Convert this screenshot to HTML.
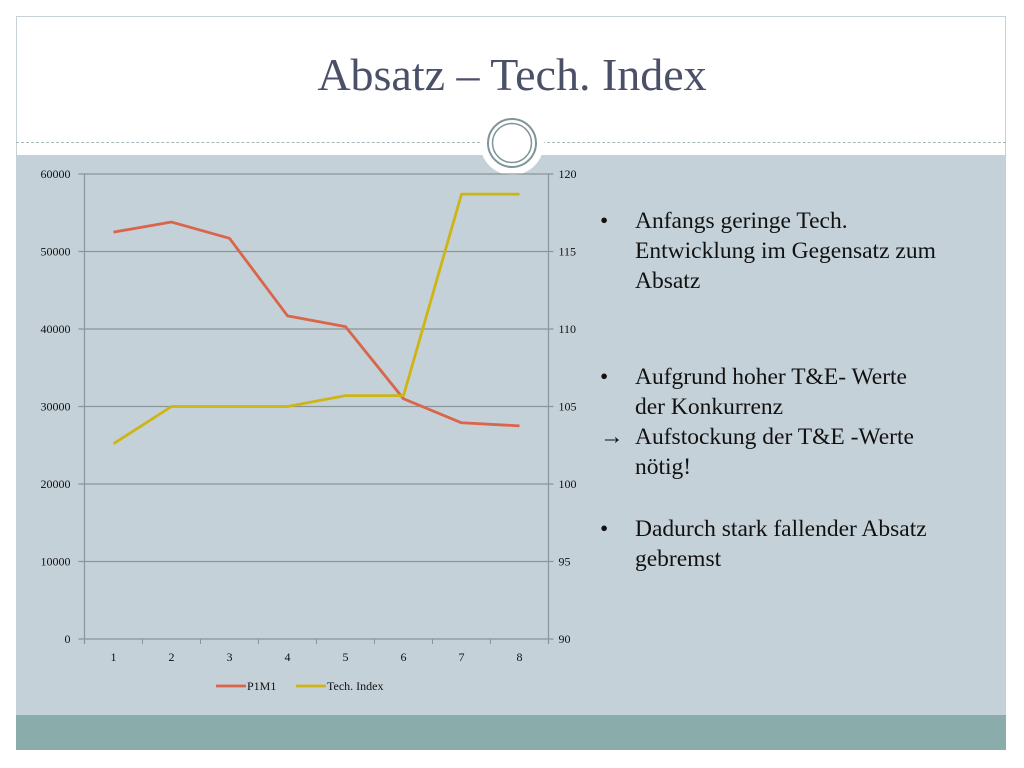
<!DOCTYPE html>
<html><head><meta charset="utf-8"><style>
body{margin:0;width:1024px;height:768px;background:#fff;position:relative;overflow:hidden;font-family:"Liberation Serif",serif}
#frame{position:absolute;left:16px;top:16px;width:990px;height:734px;border:1px solid #c8d2d6;box-sizing:border-box}
#content{position:absolute;left:16px;top:155px;width:990px;height:560px;background:#c5d1d8}
#footer{position:absolute;left:16px;top:715px;width:990px;height:35px;background:#8aacab}
#title{position:absolute;left:0;width:1024px;top:48px;text-align:center;font-size:46px;color:#4a5068}
#dots{position:absolute;left:16px;width:990px;top:142px;border-top:1px dashed #a9b7bc}
.bul{position:absolute;left:600px;font-size:23.5px;color:#111;line-height:30px}
</style></head><body>
<div id="frame"></div>
<div id="dots"></div>
<div id="content"></div>
<div id="footer"></div>
<div id="title">Absatz – Tech. Index</div>
<svg style="position:absolute;left:0;top:0" width="1024" height="768">
<circle cx="512" cy="143" r="32" fill="#fff"/>
<circle cx="512" cy="143" r="24" fill="none" stroke="#7f9599" stroke-width="2"/>
<circle cx="512" cy="143" r="19.5" fill="none" stroke="#7f9599" stroke-width="1.5"/>
<g id="g"></g>
</svg>
<div class="bul" style="top:206px"><span style="position:absolute;left:0">•</span><div style="margin-left:35px">Anfangs geringe Tech.<br>Entwicklung im Gegensatz zum<br>Absatz</div></div>
<div class="bul" style="top:362px"><span style="position:absolute;left:0">•</span><div style="margin-left:35px;white-space:nowrap">Aufgrund hoher T&amp;E- Werte<br>der Konkurrenz</div></div>
<div class="bul" style="top:422px;left:614px"><span style="position:absolute;left:-14px">→</span><div style="margin-left:21px;white-space:nowrap">Aufstockung der T&amp;E -Werte<br>nötig!</div></div>
<div class="bul" style="top:514px"><span style="position:absolute;left:0">•</span><div style="margin-left:35px;white-space:nowrap">Dadurch stark fallender Absatz<br>gebremst</div></div>
<script>
const categories=["1","2","3","4","5","6","7","8"];
const salesValues=[52500,53800,51700,41700,40300,31000,27900,27500];
const techValues=[102.6,105,105,105,105.7,105.7,118.7,118.7];
const leftTicks=[0,10000,20000,30000,40000,50000,60000];
const rightTicks=[90,95,100,105,110,115,120];
const X0=84.5,X1=548.5,Y0=639,Y1=174;
const NS="http://www.w3.org/2000/svg",g=document.getElementById('g');
const bw=(X1-X0)/categories.length;
const xS=i=>X0+bw*(i+0.5);
const yL=v=>Y0-(v-0)/(60000)*(Y0-Y1);
const yR=v=>Y0-(v-90)/30*(Y0-Y1);
function el(t,a,txt){const e=document.createElementNS(NS,t);for(const k in a)e.setAttribute(k,a[k]);if(txt!=null)e.textContent=txt;g.appendChild(e);return e;}
leftTicks.forEach(v=>{
const l=el('line',{x1:X0-6,x2:X1+5,y1:yL(v),y2:yL(v),stroke:'#8a9599','stroke-width':1.2});


const t=el('text',{x:X0-14,y:yL(v)+4,'text-anchor':'end','font-size':12,fill:'#111'},String(v));


});
rightTicks.forEach(v=>{
const t=el('text',{x:X1+10,y:yR(v)+4,'font-size':12,fill:'#111'},String(v));


});
el('line',{x1:X0,x2:X0,y1:Y1,y2:Y0+5,stroke:'#8a9599','stroke-width':1.2});
el('line',{x1:X1,x2:X1,y1:Y1,y2:Y0+5,stroke:'#8a9599','stroke-width':1.2});
categories.forEach((c,i)=>{
el('line',{x1:X0+bw*i,x2:X0+bw*i,y1:Y0,y2:Y0+5,stroke:'#8a9599'});
const t=el('text',{x:xS(i),y:Y0+22,'text-anchor':'middle','font-size':12,fill:'#111'},c);


});
const p1=el('polyline',{points:salesValues.map((v,i)=>xS(i)+','+yL(v)).join(' '),fill:'none',stroke:'#d9654a','stroke-width':2.8,'stroke-linejoin':'round'});


const p2=el('polyline',{points:techValues.map((v,i)=>xS(i)+','+yR(v)).join(' '),fill:'none',stroke:'#cdb515','stroke-width':2.8,'stroke-linejoin':'round'});


el('line',{x1:216,x2:246,y1:686,y2:686,stroke:'#d9654a','stroke-width':2.8});
const l1=el('text',{x:247,y:690,'font-size':12,fill:'#111'},'P1M1');


el('line',{x1:296,x2:326,y1:686,y2:686,stroke:'#cdb515','stroke-width':2.8});
const l2=el('text',{x:327,y:690,'font-size':12,fill:'#111'},'Tech. Index');


</script>
</body></html>
